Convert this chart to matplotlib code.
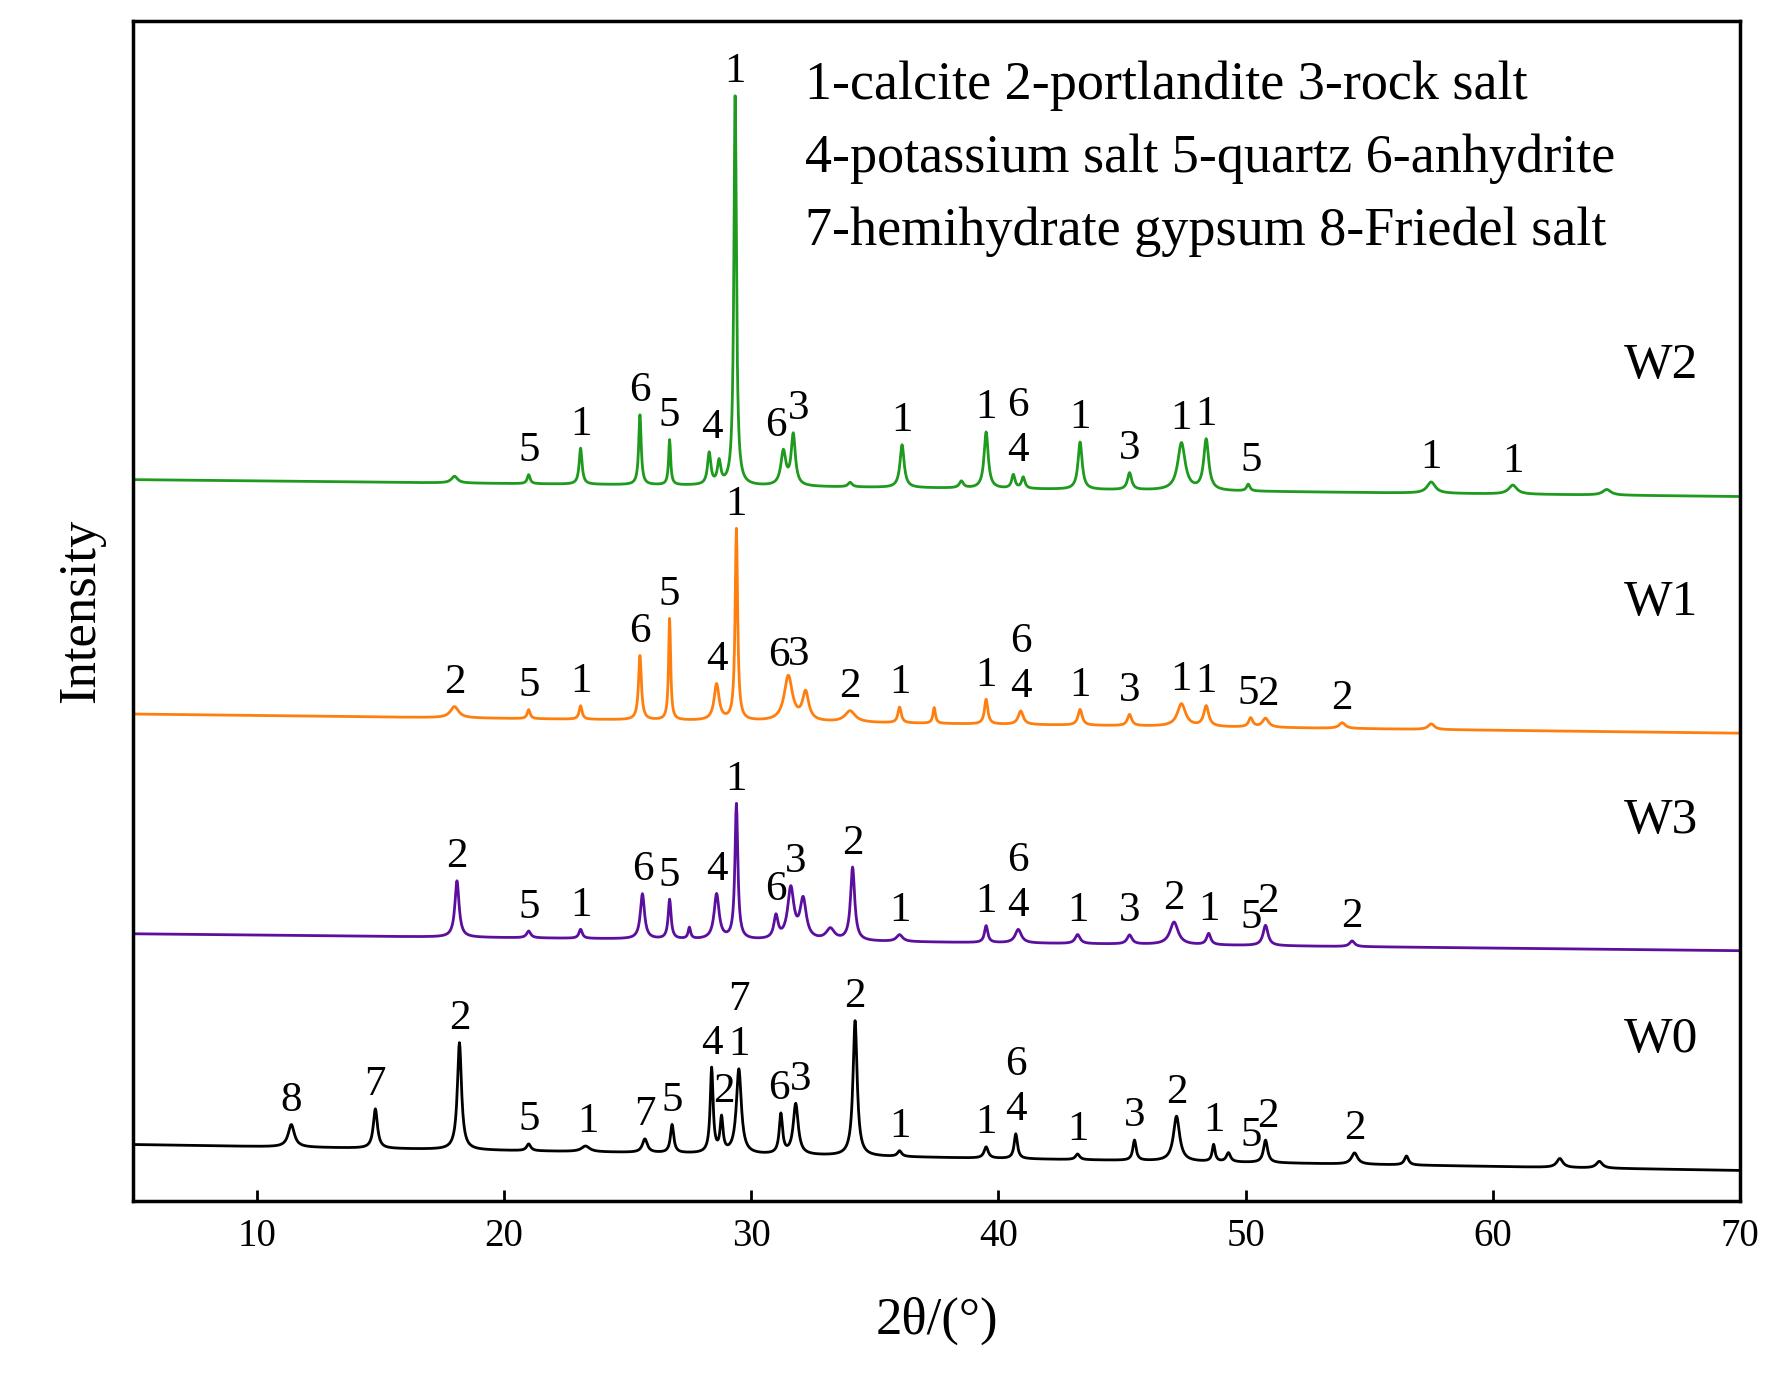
import numpy as np
import matplotlib.pyplot as plt

plt.rcParams['font.family'] = ['Liberation Serif', 'DejaVu Serif']

# 2theta grid
two_theta = np.arange(5, 70.001, 0.02)

# baseline (left, right) in plot units and peaks (position, height, width)
names = ['W0', 'W3', 'W1', 'W2']
colors = ['black', '#5b0f9c', '#ff7f0e', '#1e9a1e']
baselines = [(225, 202), (412, 397), (607, 590), (815, 800)]

peaks_w0 = [(11.4, 20, .15), (14.8, 35, .1), (18.2, 95, .1), (21.0, 6, .1), (23.3, 5, .2),
            (25.7, 12, .12), (26.8, 25, .08), (28.4, 75, .07), (28.8, 30, .07), (29.5, 75, .12),
            (31.2, 35, .08), (31.8, 45, .12), (34.2, 120, .1), (36.0, 5, .1), (39.5, 10, .1),
            (40.7, 22, .08), (43.2, 5, .1), (45.5, 18, .08), (47.2, 40, .15), (48.7, 15, .07),
            (49.3, 8, .1), (50.8, 20, .1), (54.4, 10, .15), (56.5, 8, .1), (62.7, 8, .15), (64.3, 6, .15)]
peaks_w3 = [(18.1, 50, .1), (21.0, 6, .1), (23.1, 8, .08), (25.6, 40, .1), (26.7, 35, .07),
            (27.5, 10, .06), (28.6, 40, .12), (29.4, 120, .07), (31.0, 20, .1), (31.6, 45, .15),
            (32.1, 35, .15), (33.2, 10, .2), (34.1, 65, .1), (36.0, 6, .15), (39.5, 15, .08),
            (40.8, 12, .15), (43.2, 8, .12), (45.3, 8, .12), (47.1, 20, .2), (48.5, 10, .1),
            (50.8, 18, .12), (54.3, 5, .12)]
peaks_w1 = [(18.0, 10, .2), (21.0, 8, .07), (23.1, 12, .07), (25.5, 57, .07), (26.7, 90, .05),
            (28.6, 32, .12), (29.4, 170, .06), (31.5, 40, .2), (32.2, 25, .15), (34.0, 10, .25),
            (36.0, 14, .08), (37.4, 14, .06), (39.5, 22, .08), (40.9, 12, .12), (43.3, 14, .1),
            (45.3, 10, .1), (47.4, 20, .2), (48.4, 18, .12), (50.2, 8, .1), (50.8, 8, .15),
            (53.9, 5, .15), (57.5, 5, .15)]
peaks_w2 = [(18.0, 6, .15), (21.0, 8, .07), (23.1, 32, .07), (25.5, 62, .06), (26.7, 40, .05),
            (28.3, 28, .08), (28.7, 20, .08), (29.35, 355, .06), (31.3, 30, .12), (31.7, 45, .1),
            (34.0, 4, .1), (36.1, 38, .1), (38.5, 6, .1), (39.5, 50, .1), (40.6, 12, .08),
            (41.0, 10, .08), (43.3, 42, .1), (45.3, 15, .1), (47.4, 42, .18), (48.4, 45, .12),
            (50.1, 6, .08), (57.5, 10, .2), (60.8, 8, .2), (64.6, 5, .2)]
all_peaks = [peaks_w0, peaks_w3, peaks_w1, peaks_w2]

# peak labels: (text, 2theta, stack level)
labels_w0 = [('8', 11.4, 0), ('7', 14.8, 0), ('2', 18.2, 0), ('5', 21.0, 0), ('1', 23.4, 0),
             ('7', 25.7, 0), ('5', 26.8, 0), ('4', 28.4, 0), ('2', 28.9, 0), ('1', 29.5, 0),
             ('7', 29.5, 1), ('6', 31.1, 0), ('3', 32.0, 0), ('2', 34.2, 0), ('1', 36.0, 0),
             ('1', 39.5, 0), ('4', 40.7, 0), ('6', 40.7, 1), ('1', 43.2, 0), ('3', 45.5, 0),
             ('2', 47.2, 0), ('1', 48.7, 0), ('5', 50.2, 0), ('2', 50.9, 0), ('2', 54.4, 0)]
labels_w3 = [('2', 18.1, 0), ('5', 21.0, 0), ('1', 23.1, 0), ('6', 25.6, 0), ('5', 26.7, 0),
             ('4', 28.6, 0), ('1', 29.4, 0), ('6', 31.0, 0), ('3', 31.8, 0), ('2', 34.1, 0),
             ('1', 36.0, 0), ('1', 39.5, 0), ('4', 40.8, 0), ('6', 40.8, 1), ('1', 43.2, 0),
             ('3', 45.3, 0), ('2', 47.1, 0), ('1', 48.5, 0), ('5', 50.2, 0), ('2', 50.9, 0),
             ('2', 54.3, 0)]
labels_w1 = [('2', 18.0, 0), ('5', 21.0, 0), ('1', 23.1, 0), ('6', 25.5, 0), ('5', 26.7, 0),
             ('4', 28.6, 0), ('1', 29.4, 0), ('6', 31.1, 0), ('3', 31.9, 0), ('2', 34.0, 0),
             ('1', 36.0, 0), ('1', 39.5, 0), ('4', 40.9, 0), ('6', 40.9, 1), ('1', 43.3, 0),
             ('3', 45.3, 0), ('1', 47.4, 0), ('1', 48.4, 0), ('5', 50.1, 0), ('2', 50.9, 0),
             ('2', 53.9, 0)]
labels_w2 = [('5', 21.0, 0), ('1', 23.1, 0), ('6', 25.5, 0), ('5', 26.7, 0), ('4', 28.4, 0),
             ('1', 29.35, 0), ('6', 31.0, 0), ('3', 31.9, 0), ('1', 36.1, 0), ('1', 39.5, 0),
             ('4', 40.8, 0), ('6', 40.8, 1), ('1', 43.3, 0), ('3', 45.3, 0), ('1', 47.4, 0),
             ('1', 48.4, 0), ('5', 50.2, 0), ('1', 57.5, 0), ('1', 60.8, 0)]
all_labels = [labels_w0, labels_w3, labels_w1, labels_w2]

fig = plt.figure(figsize=(17.74, 13.98), dpi=100)
ax = fig.add_axes([0.075, 0.141, 0.906, 0.844])

for name, col, (b0, b1), peaks, labels in zip(names, colors, baselines, all_peaks, all_labels):
    y = b0 + (b1 - b0) * (two_theta - 5) / 65
    for pos, h, w in peaks:
        y = y + h / (1 + ((two_theta - pos) / w) ** 2)
    ax.plot(two_theta, y, color=col, lw=2)
    for txt, pos, lev in labels:
        m = np.abs(two_theta - pos) < 0.35
        top = y[m].max()
        ax.text(pos, top + 4 + lev * 40, txt, ha='center', va='bottom', fontsize=31)
    ax.text(66.8, b1 + 95, name, ha='center', va='bottom', fontsize=37)

legend_lines = ['1-calcite 2-portlandite 3-rock salt',
                '4-potassium salt 5-quartz 6-anhydrite',
                '7-hemihydrate gypsum 8-Friedel salt']
for i, line in enumerate(legend_lines):
    ax.text(0.418, 0.945 - i * 0.062, line, transform=ax.transAxes, fontsize=39, va='center')

ax.set_xlim(5, 70)
ax.set_ylim(175, 1222)
ax.set_yticks([])
ax.set_xticks([10, 20, 30, 40, 50, 60, 70])
ax.tick_params(axis='x', labelsize=28, direction='in', length=8, width=2, pad=12)
for s in ax.spines.values():
    s.set_linewidth(2.5)
ax.set_xlabel('2θ/(°)', fontsize=38, labelpad=30)
ax.set_ylabel('Intensity', fontsize=38, labelpad=20)

fig.savefig('out.png', dpi=100)
